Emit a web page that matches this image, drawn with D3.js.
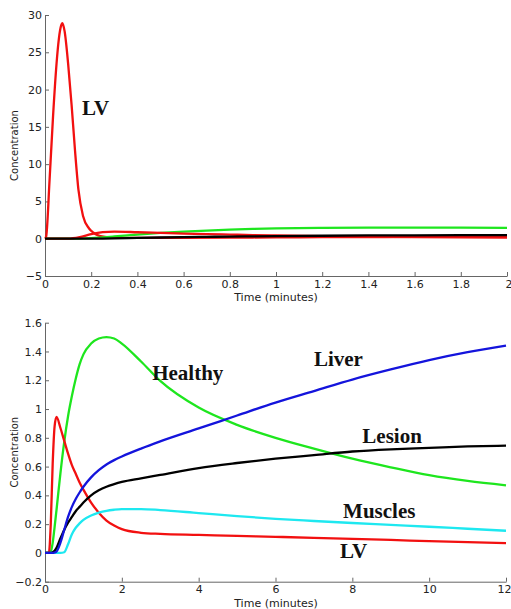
<!DOCTYPE html>
<html>
<head>
<meta charset="utf-8">
<script src="https://cdn.jsdelivr.net/npm/d3@7"></script>
<style>
  body { margin: 0; background: #fff; }
  svg { display: block; }
  .tick text { font-family: "DejaVu Sans", sans-serif; font-size: 11px; fill: #222; }
  .domain, .tick line { stroke: #666; }
  .axis-label { font-family: "DejaVu Sans", sans-serif; font-size: 10px; fill: #222; }
  .time-label { font-size: 11px; }
  .curve-label { font-family: "Liberation Serif", "Times New Roman", serif; font-weight: bold; font-size: 21px; fill: #111; }
</style>
</head>
<body>
<svg id="chart" width="511" height="609"></svg>
<script>
// top panel: early arterial (LV) spike, first 2 minutes
const topTime = [0, 0.005, 0.02, 0.035, 0.05, 0.06, 0.07, 0.075, 0.085, 0.1, 0.115, 0.13, 0.145, 0.165,
  0.19, 0.21, 0.23, 0.26, 0.3, 0.4, 0.6, 0.8, 1.0, 1.2, 1.4, 1.6, 1.8, 2.0];
const topLV = [0, 0.3, 8, 16.5, 23.5, 26.8, 28.6, 28.9, 27.8, 23.5, 18, 11.8, 6.5, 3.0,
  1.4, 0.8, 0.45, 0.25, 0.15, 0.12, 0.13, 0.15, 0.18, 0.2, 0.22, 0.24, 0.25, 0.26];

// bottom panel: tissue curves over 12 minutes
const bottomTime = [0, 0.1, 0.15, 0.2, 0.25, 0.3, 0.4, 0.5, 0.6, 0.7, 0.8, 0.9, 1.0, 1.2, 1.4, 1.6, 1.8, 2.0,
  2.5, 3, 4, 5, 6, 7, 8, 9, 10, 11, 12];
const lvValues = [0, 0, 0.2, 0.62, 0.88, 0.945, 0.87, 0.78, 0.69, 0.61, 0.55, 0.49, 0.44, 0.35, 0.28, 0.225, 0.19, 0.165,
  0.14, 0.132, 0.125, 0.118, 0.112, 0.105, 0.097, 0.09, 0.082, 0.075, 0.068];
const healthyValues = [0, 0, 0.01, 0.07, 0.18, 0.3, 0.55, 0.77, 0.95, 1.09, 1.21, 1.31, 1.38, 1.455, 1.49, 1.5, 1.49, 1.455,
  1.33, 1.195, 1.01, 0.89, 0.8, 0.725, 0.655, 0.595, 0.54, 0.5, 0.47];
const liverValues = [0, 0, 0, 0, 0.003, 0.01, 0.07, 0.16, 0.25, 0.32, 0.375, 0.42, 0.46, 0.525, 0.575, 0.615, 0.645, 0.67,
  0.725, 0.775, 0.865, 0.955, 1.045, 1.125, 1.205, 1.275, 1.34, 1.395, 1.44];
const lesionValues = [0, 0, 0, 0.005, 0.015, 0.035, 0.1, 0.16, 0.21, 0.25, 0.29, 0.32, 0.35, 0.4, 0.435, 0.46, 0.478, 0.493,
  0.518, 0.542, 0.59, 0.625, 0.655, 0.68, 0.705, 0.72, 0.73, 0.74, 0.745];
const musclesValues = [0, 0, 0, 0, 0, 0, 0, 0.005, 0.06, 0.13, 0.175, 0.205, 0.23, 0.26, 0.28, 0.293, 0.3, 0.304,
  0.305, 0.298, 0.277, 0.256, 0.237, 0.222, 0.208, 0.195, 0.182, 0.168, 0.154];

const svg = d3.select('#chart');

const makePanel = ({ top, bottom, left, right, xDomain, yDomain, xStep, yStep }) => {
  const x = d3.scaleLinear().domain(xDomain).range([left, right]);
  const y = d3.scaleLinear().domain(yDomain).range([bottom, top]);
  const fmt = d3.format('~g');
  const xAxis = svg.append('g')
    .attr('transform', `translate(0,${bottom})`)
    .call(d3.axisBottom(x)
      .tickValues(d3.range(xDomain[0], xDomain[1] + xStep / 2, xStep).map(v => +v.toFixed(6)))
      .tickFormat(fmt)
      .tickSizeInner(-4).tickSizeOuter(0).tickPadding(4));
  // last label sits on the window edge, keep it inside
  xAxis.selectAll('.tick:last-of-type text').attr('text-anchor', 'end').attr('dx', '0.45em');
  svg.append('g')
    .attr('transform', `translate(${left},0)`)
    .call(d3.axisLeft(y)
      .tickValues(d3.range(yDomain[0], yDomain[1] + yStep / 2, yStep).map(v => +v.toFixed(6)))
      .tickFormat(fmt)
      .tickSizeInner(-4).tickSizeOuter(0).tickPadding(3));
  svg.append('text')
    .attr('class', 'axis-label')
    .attr('text-anchor', 'middle')
    .attr('transform', `translate(18,${(top + bottom) / 2}) rotate(-90)`)
    .text('Concentration');
  return { x, y };
};

const drawLine = (panel, xs, ys, colour) => {
  const line = d3.line()
    .x(d => panel.x(d[0]))
    .y(d => panel.y(d[1]))
    .curve(d3.curveMonotoneX);
  svg.append('path')
    .datum(d3.zip(xs, ys))
    .attr('d', line)
    .attr('fill', 'none')
    .attr('stroke', colour)
    .attr('stroke-width', 2.3)
    .attr('stroke-linejoin', 'round');
};

const addLabel = (panel, xv, yv, text) => {
  svg.append('text')
    .attr('class', 'curve-label')
    .attr('x', panel.x(xv))
    .attr('y', panel.y(yv))
    .text(text);
};

const RED = '#f21010', GREEN = '#1ee61e', BLUE = '#1414dc', CYAN = '#1ee8f0', BLACK = '#000';

// top panel
const topPanel = makePanel({ top: 15, bottom: 276, left: 45, right: 507,
  xDomain: [0, 2], yDomain: [-5, 30], xStep: 0.2, yStep: 5 });
const upTo2 = arr => arr.filter((v, i) => bottomTime[i] <= 2);
drawLine(topPanel, topTime, topLV, RED);
drawLine(topPanel, upTo2(bottomTime), upTo2(healthyValues), GREEN);
drawLine(topPanel, upTo2(bottomTime), upTo2(lvValues), RED);
drawLine(topPanel, upTo2(bottomTime), upTo2(lesionValues), BLACK);
addLabel(topPanel, 0.16, 16.6, 'LV');
svg.append('text')
  .attr('class', 'axis-label time-label')
  .attr('text-anchor', 'middle')
  .attr('x', 276).attr('y', 301)
  .text('Time (minutes)');

// bottom panel
const bottomPanel = makePanel({ top: 322.7, bottom: 581.7, left: 45, right: 506,
  xDomain: [0, 12], yDomain: [-0.2, 1.6], xStep: 2, yStep: 0.2 });
drawLine(bottomPanel, bottomTime, healthyValues, GREEN);
drawLine(bottomPanel, bottomTime, lvValues, RED);
drawLine(bottomPanel, bottomTime, musclesValues, CYAN);
drawLine(bottomPanel, bottomTime, lesionValues, BLACK);
drawLine(bottomPanel, bottomTime, liverValues, BLUE);
addLabel(bottomPanel, 2.79, 1.2, 'Healthy');
addLabel(bottomPanel, 7.0, 1.3, 'Liver');
addLabel(bottomPanel, 8.26, 0.763, 'Lesion');
addLabel(bottomPanel, 7.76, 0.242, 'Muscles');
addLabel(bottomPanel, 7.68, -0.035, 'LV');
svg.append('text')
  .attr('class', 'axis-label time-label')
  .attr('text-anchor', 'middle')
  .attr('x', 276).attr('y', 606.5)
  .text('Time (minutes)');
</script>
</body>
</html>
